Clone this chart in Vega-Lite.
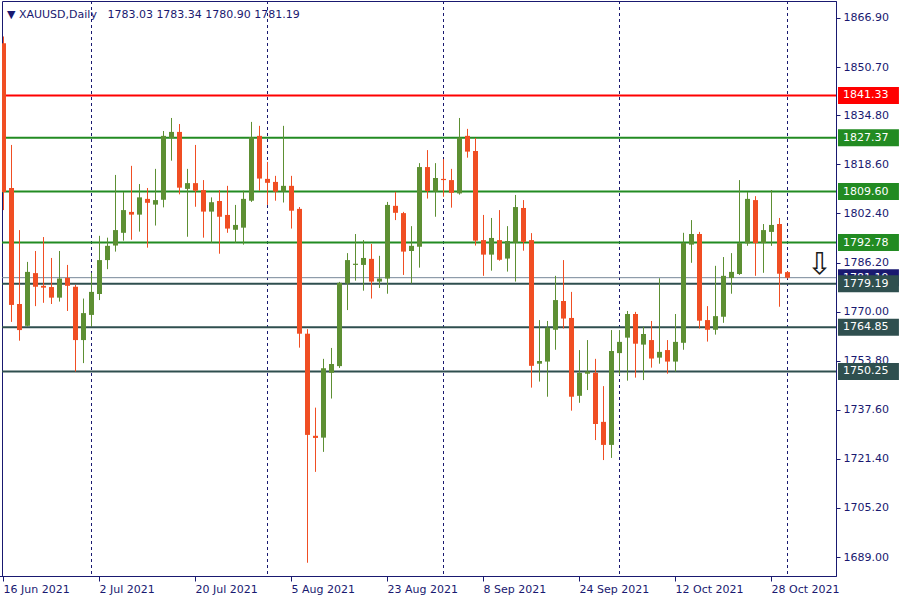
{
"$schema":"https://vega.github.io/schema/vega-lite/v6.json",
"width":834,"height":575,
"autosize":{"type":"none"},
"padding":{"left":2,"top":1,"right":64,"bottom":24},
"background":"white",
"config":{"font":"DejaVu Sans","view":{"stroke":"#191970","strokeWidth":1},"axis":{"grid":false}},
"title":{"text":"▼ XAUUSD,Daily\u00a0\u00a0\u00a01783.03 1783.34 1780.90 1781.19","anchor":"start","frame":"group","offset":-15,"dx":5,"dy":13,"fontSize":11,"fontWeight":"normal","color":"#191970","baseline":"alphabetic","font":"DejaVu Sans"},
"datasets":{
"bars":[
{"d":"16 Jun 2021","o":1858.6,"h":1860.8,"l":1803.5,"c":1809.5},
{"d":"17 Jun 2021","o":1810.8,"h":1825.0,"l":1766.6,"c":1772.2},
{"d":"18 Jun 2021","o":1772.5,"h":1796.9,"l":1760.4,"c":1763.9},
{"d":"21 Jun 2021","o":1765.3,"h":1786.4,"l":1765.0,"c":1783.1},
{"d":"22 Jun 2021","o":1782.7,"h":1790.0,"l":1771.8,"c":1778.2},
{"d":"23 Jun 2021","o":1778.5,"h":1794.6,"l":1772.9,"c":1777.9},
{"d":"24 Jun 2021","o":1778.1,"h":1787.7,"l":1772.5,"c":1774.6},
{"d":"25 Jun 2021","o":1774.6,"h":1790.0,"l":1773.3,"c":1780.9},
{"d":"28 Jun 2021","o":1781.1,"h":1785.4,"l":1770.2,"c":1778.5},
{"d":"29 Jun 2021","o":1778.2,"h":1778.8,"l":1750.2,"c":1760.6},
{"d":"30 Jun 2021","o":1760.6,"h":1774.3,"l":1753.0,"c":1769.5},
{"d":"1 Jul 2021","o":1768.9,"h":1782.8,"l":1765.0,"c":1776.5},
{"d":"2 Jul 2021","o":1775.8,"h":1795.0,"l":1773.8,"c":1787.0},
{"d":"5 Jul 2021","o":1787.0,"h":1794.4,"l":1784.0,"c":1791.7},
{"d":"6 Jul 2021","o":1791.8,"h":1815.1,"l":1789.8,"c":1796.9},
{"d":"7 Jul 2021","o":1796.0,"h":1809.5,"l":1793.4,"c":1803.5},
{"d":"8 Jul 2021","o":1802.9,"h":1818.1,"l":1793.7,"c":1802.0},
{"d":"9 Jul 2021","o":1802.0,"h":1812.1,"l":1796.4,"c":1807.7},
{"d":"12 Jul 2021","o":1807.2,"h":1810.8,"l":1791.1,"c":1805.9},
{"d":"13 Jul 2021","o":1805.3,"h":1817.1,"l":1798.4,"c":1806.8},
{"d":"14 Jul 2021","o":1806.9,"h":1829.6,"l":1804.4,"c":1828.0},
{"d":"15 Jul 2021","o":1827.3,"h":1833.9,"l":1819.8,"c":1829.3},
{"d":"16 Jul 2021","o":1829.3,"h":1831.9,"l":1808.7,"c":1810.9},
{"d":"19 Jul 2021","o":1810.5,"h":1817.1,"l":1794.7,"c":1812.4},
{"d":"20 Jul 2021","o":1812.4,"h":1825.0,"l":1804.6,"c":1809.9},
{"d":"21 Jul 2021","o":1810.1,"h":1813.4,"l":1794.4,"c":1803.0},
{"d":"22 Jul 2021","o":1803.0,"h":1807.7,"l":1792.7,"c":1806.1},
{"d":"23 Jul 2021","o":1806.5,"h":1810.1,"l":1789.1,"c":1801.3},
{"d":"26 Jul 2021","o":1801.9,"h":1811.5,"l":1796.0,"c":1797.4},
{"d":"27 Jul 2021","o":1797.0,"h":1805.2,"l":1792.7,"c":1798.6},
{"d":"28 Jul 2021","o":1797.7,"h":1809.9,"l":1792.1,"c":1807.2},
{"d":"29 Jul 2021","o":1806.6,"h":1832.6,"l":1806.2,"c":1827.5},
{"d":"30 Jul 2021","o":1828.0,"h":1831.3,"l":1809.9,"c":1813.9},
{"d":"2 Aug 2021","o":1813.8,"h":1819.4,"l":1805.2,"c":1812.5},
{"d":"3 Aug 2021","o":1812.8,"h":1814.8,"l":1806.6,"c":1809.6},
{"d":"4 Aug 2021","o":1809.6,"h":1831.3,"l":1806.0,"c":1811.5},
{"d":"5 Aug 2021","o":1811.5,"h":1814.8,"l":1797.4,"c":1803.3},
{"d":"6 Aug 2021","o":1803.9,"h":1804.5,"l":1758.1,"c":1762.7},
{"d":"9 Aug 2021","o":1762.7,"h":1764.2,"l":1687.1,"c":1729.3},
{"d":"10 Aug 2021","o":1729.0,"h":1738.3,"l":1717.1,"c":1728.3},
{"d":"11 Aug 2021","o":1728.4,"h":1754.4,"l":1723.7,"c":1751.3},
{"d":"12 Aug 2021","o":1749.8,"h":1758.0,"l":1741.3,"c":1752.7},
{"d":"13 Aug 2021","o":1752.0,"h":1779.8,"l":1751.4,"c":1779.5},
{"d":"16 Aug 2021","o":1779.3,"h":1789.3,"l":1770.5,"c":1787.0},
{"d":"17 Aug 2021","o":1785.4,"h":1795.6,"l":1780.2,"c":1785.8},
{"d":"18 Aug 2021","o":1785.4,"h":1793.6,"l":1776.9,"c":1787.7},
{"d":"19 Aug 2021","o":1787.4,"h":1792.3,"l":1774.3,"c":1779.9},
{"d":"20 Aug 2021","o":1779.9,"h":1788.4,"l":1777.8,"c":1780.9},
{"d":"23 Aug 2021","o":1780.9,"h":1806.2,"l":1775.9,"c":1805.2},
{"d":"24 Aug 2021","o":1804.9,"h":1809.5,"l":1800.2,"c":1802.6},
{"d":"25 Aug 2021","o":1802.5,"h":1802.9,"l":1782.1,"c":1789.8},
{"d":"26 Aug 2021","o":1790.0,"h":1798.2,"l":1779.3,"c":1791.7},
{"d":"27 Aug 2021","o":1791.4,"h":1819.0,"l":1784.5,"c":1817.7},
{"d":"30 Aug 2021","o":1817.7,"h":1823.3,"l":1807.3,"c":1809.8},
{"d":"31 Aug 2021","o":1809.6,"h":1819.0,"l":1801.3,"c":1814.1},
{"d":"1 Sep 2021","o":1813.8,"h":1820.3,"l":1807.9,"c":1813.4},
{"d":"2 Sep 2021","o":1813.4,"h":1817.1,"l":1804.3,"c":1809.2},
{"d":"3 Sep 2021","o":1809.0,"h":1833.9,"l":1808.6,"c":1827.4},
{"d":"6 Sep 2021","o":1828.0,"h":1830.3,"l":1820.8,"c":1822.8},
{"d":"7 Sep 2021","o":1823.0,"h":1827.3,"l":1791.8,"c":1793.4},
{"d":"8 Sep 2021","o":1793.6,"h":1801.9,"l":1781.8,"c":1788.8},
{"d":"9 Sep 2021","o":1788.8,"h":1800.9,"l":1783.5,"c":1794.3},
{"d":"10 Sep 2021","o":1793.6,"h":1803.5,"l":1786.8,"c":1787.1},
{"d":"13 Sep 2021","o":1787.5,"h":1798.2,"l":1783.2,"c":1793.3},
{"d":"14 Sep 2021","o":1792.7,"h":1808.5,"l":1779.9,"c":1804.5},
{"d":"15 Sep 2021","o":1804.2,"h":1806.8,"l":1790.1,"c":1793.0},
{"d":"16 Sep 2021","o":1793.6,"h":1795.9,"l":1744.9,"c":1752.1},
{"d":"17 Sep 2021","o":1752.8,"h":1767.2,"l":1746.9,"c":1753.7},
{"d":"20 Sep 2021","o":1753.5,"h":1766.9,"l":1741.9,"c":1764.7},
{"d":"21 Sep 2021","o":1764.0,"h":1781.8,"l":1757.4,"c":1773.8},
{"d":"22 Sep 2021","o":1773.5,"h":1787.0,"l":1764.4,"c":1767.7},
{"d":"23 Sep 2021","o":1767.9,"h":1776.5,"l":1737.3,"c":1741.9},
{"d":"24 Sep 2021","o":1742.2,"h":1757.3,"l":1739.9,"c":1749.8},
{"d":"27 Sep 2021","o":1749.5,"h":1760.6,"l":1744.1,"c":1750.2},
{"d":"28 Sep 2021","o":1749.8,"h":1754.4,"l":1727.6,"c":1732.9},
{"d":"29 Sep 2021","o":1733.6,"h":1745.4,"l":1721.0,"c":1726.0},
{"d":"30 Sep 2021","o":1726.0,"h":1763.9,"l":1721.7,"c":1757.0},
{"d":"1 Oct 2021","o":1756.3,"h":1763.9,"l":1749.1,"c":1760.0},
{"d":"4 Oct 2021","o":1761.4,"h":1770.2,"l":1747.2,"c":1769.2},
{"d":"5 Oct 2021","o":1769.2,"h":1769.9,"l":1748.2,"c":1759.4},
{"d":"6 Oct 2021","o":1759.1,"h":1765.0,"l":1747.4,"c":1762.6},
{"d":"7 Oct 2021","o":1760.6,"h":1766.9,"l":1751.5,"c":1754.5},
{"d":"8 Oct 2021","o":1754.8,"h":1781.0,"l":1752.8,"c":1756.7},
{"d":"11 Oct 2021","o":1757.3,"h":1760.6,"l":1749.5,"c":1753.5},
{"d":"12 Oct 2021","o":1753.5,"h":1769.2,"l":1750.2,"c":1760.0},
{"d":"13 Oct 2021","o":1759.7,"h":1796.0,"l":1757.4,"c":1792.7},
{"d":"14 Oct 2021","o":1792.1,"h":1800.2,"l":1786.1,"c":1795.6},
{"d":"15 Oct 2021","o":1795.6,"h":1796.3,"l":1764.4,"c":1767.0},
{"d":"18 Oct 2021","o":1767.2,"h":1771.8,"l":1760.1,"c":1764.0},
{"d":"19 Oct 2021","o":1764.0,"h":1785.1,"l":1762.4,"c":1768.5},
{"d":"20 Oct 2021","o":1768.3,"h":1788.0,"l":1766.3,"c":1781.8},
{"d":"21 Oct 2021","o":1781.1,"h":1789.3,"l":1775.9,"c":1783.1},
{"d":"22 Oct 2021","o":1782.4,"h":1813.4,"l":1782.1,"c":1792.6},
{"d":"25 Oct 2021","o":1792.5,"h":1809.5,"l":1791.7,"c":1807.2},
{"d":"26 Oct 2021","o":1806.8,"h":1808.1,"l":1781.8,"c":1792.6},
{"d":"27 Oct 2021","o":1792.6,"h":1798.9,"l":1782.8,"c":1796.9},
{"d":"28 Oct 2021","o":1796.3,"h":1810.1,"l":1791.7,"c":1798.6},
{"d":"29 Oct 2021","o":1798.9,"h":1800.9,"l":1771.6,"c":1782.5},
{"d":"1 Nov 2021","o":1783.03,"h":1783.34,"l":1780.90,"c":1781.19}
],
"seps":[{"d":"1 Jul 2021"},{"d":"2 Aug 2021"},{"d":"1 Sep 2021"},{"d":"1 Oct 2021"},{"d":"1 Nov 2021"}],
"levels":[
{"price":1781.19,"kind":"bid"},
{"price":1841.33,"kind":"target"},
{"price":1827.37,"kind":"resistance"},
{"price":1809.60,"kind":"resistance"},
{"price":1792.78,"kind":"resistance"},
{"price":1779.19,"kind":"support"},
{"price":1764.85,"kind":"support"},
{"price":1750.25,"kind":"support"}
],
"signals":[{"d":"5 Nov 2021","price":1785.4,"label":"⇩"}]
},
"layer":[
{"data":{"name":"seps"},
 "mark":{"type":"rule","strokeDash":[3,3],"color":"#191970","strokeWidth":1},
 "encoding":{"x":{"field":"d","type":"ordinal","title":null,"scale":{"domain":["16 Jun 2021","17 Jun 2021","18 Jun 2021","21 Jun 2021","22 Jun 2021","23 Jun 2021","24 Jun 2021","25 Jun 2021","28 Jun 2021","29 Jun 2021","30 Jun 2021","1 Jul 2021","2 Jul 2021","5 Jul 2021","6 Jul 2021","7 Jul 2021","8 Jul 2021","9 Jul 2021","12 Jul 2021","13 Jul 2021","14 Jul 2021","15 Jul 2021","16 Jul 2021","19 Jul 2021","20 Jul 2021","21 Jul 2021","22 Jul 2021","23 Jul 2021","26 Jul 2021","27 Jul 2021","28 Jul 2021","29 Jul 2021","30 Jul 2021","2 Aug 2021","3 Aug 2021","4 Aug 2021","5 Aug 2021","6 Aug 2021","9 Aug 2021","10 Aug 2021","11 Aug 2021","12 Aug 2021","13 Aug 2021","16 Aug 2021","17 Aug 2021","18 Aug 2021","19 Aug 2021","20 Aug 2021","23 Aug 2021","24 Aug 2021","25 Aug 2021","26 Aug 2021","27 Aug 2021","30 Aug 2021","31 Aug 2021","1 Sep 2021","2 Sep 2021","3 Sep 2021","6 Sep 2021","7 Sep 2021","8 Sep 2021","9 Sep 2021","10 Sep 2021","13 Sep 2021","14 Sep 2021","15 Sep 2021","16 Sep 2021","17 Sep 2021","20 Sep 2021","21 Sep 2021","22 Sep 2021","23 Sep 2021","24 Sep 2021","27 Sep 2021","28 Sep 2021","29 Sep 2021","30 Sep 2021","1 Oct 2021","4 Oct 2021","5 Oct 2021","6 Oct 2021","7 Oct 2021","8 Oct 2021","11 Oct 2021","12 Oct 2021","13 Oct 2021","14 Oct 2021","15 Oct 2021","18 Oct 2021","19 Oct 2021","20 Oct 2021","21 Oct 2021","22 Oct 2021","25 Oct 2021","26 Oct 2021","27 Oct 2021","28 Oct 2021","29 Oct 2021","1 Nov 2021","2 Nov 2021","3 Nov 2021","4 Nov 2021","5 Nov 2021","8 Nov 2021"],"range":[-2.5,829.5],"paddingInner":0,"paddingOuter":0},
  "axis":{"values":["16 Jun 2021","2 Jul 2021","20 Jul 2021","5 Aug 2021","23 Aug 2021","8 Sep 2021","24 Sep 2021","12 Oct 2021","28 Oct 2021"],"labelAlign":"left","labelAngle":0,"labelFontSize":11,"labelColor":"#191970","tickColor":"#191970","domainColor":"#191970","tickSize":5,"labelPadding":2,"title":null,"bandPosition":0.5,"labelOverlap":false,"labelBound":false,"labelFlush":false}}}
},
{"data":{"name":"levels"},
 "mark":{"type":"rule"},
 "encoding":{
  "y":{"field":"price","type":"quantitative","title":null,"scale":{"domain":[1682.73,1872.51],"nice":false,"zero":false},"axis":{"orient":"right","values":[1866.9,1850.7,1834.8,1818.6,1802.4,1786.2,1770.0,1753.8,1737.6,1721.4,1705.2,1689.0],"format":".2f","labelFontSize":11,"labelColor":"#191970","tickColor":"#191970","domainColor":"#191970","tickSize":4,"labelPadding":3,"title":null,"grid":false,"labelBaseline":"middle","labelBound":false,"labelFlush":false,"labelOverlap":false}},
  "color":{"field":"kind","type":"nominal","scale":{"domain":["target","resistance","support","bid"],"range":["#ff0000","#228b22","#2f4f4f","#778899"]},"legend":null},
  "strokeWidth":{"condition":{"test":"datum.kind === 'bid'","value":1},"value":2}
 }
},
{"encoding":{"x":{"field":"d","type":"ordinal","title":null,"scale":{"domain":["16 Jun 2021","17 Jun 2021","18 Jun 2021","21 Jun 2021","22 Jun 2021","23 Jun 2021","24 Jun 2021","25 Jun 2021","28 Jun 2021","29 Jun 2021","30 Jun 2021","1 Jul 2021","2 Jul 2021","5 Jul 2021","6 Jul 2021","7 Jul 2021","8 Jul 2021","9 Jul 2021","12 Jul 2021","13 Jul 2021","14 Jul 2021","15 Jul 2021","16 Jul 2021","19 Jul 2021","20 Jul 2021","21 Jul 2021","22 Jul 2021","23 Jul 2021","26 Jul 2021","27 Jul 2021","28 Jul 2021","29 Jul 2021","30 Jul 2021","2 Aug 2021","3 Aug 2021","4 Aug 2021","5 Aug 2021","6 Aug 2021","9 Aug 2021","10 Aug 2021","11 Aug 2021","12 Aug 2021","13 Aug 2021","16 Aug 2021","17 Aug 2021","18 Aug 2021","19 Aug 2021","20 Aug 2021","23 Aug 2021","24 Aug 2021","25 Aug 2021","26 Aug 2021","27 Aug 2021","30 Aug 2021","31 Aug 2021","1 Sep 2021","2 Sep 2021","3 Sep 2021","6 Sep 2021","7 Sep 2021","8 Sep 2021","9 Sep 2021","10 Sep 2021","13 Sep 2021","14 Sep 2021","15 Sep 2021","16 Sep 2021","17 Sep 2021","20 Sep 2021","21 Sep 2021","22 Sep 2021","23 Sep 2021","24 Sep 2021","27 Sep 2021","28 Sep 2021","29 Sep 2021","30 Sep 2021","1 Oct 2021","4 Oct 2021","5 Oct 2021","6 Oct 2021","7 Oct 2021","8 Oct 2021","11 Oct 2021","12 Oct 2021","13 Oct 2021","14 Oct 2021","15 Oct 2021","18 Oct 2021","19 Oct 2021","20 Oct 2021","21 Oct 2021","22 Oct 2021","25 Oct 2021","26 Oct 2021","27 Oct 2021","28 Oct 2021","29 Oct 2021","1 Nov 2021","2 Nov 2021","3 Nov 2021","4 Nov 2021","5 Nov 2021","8 Nov 2021"],"range":[-2.5,829.5],"paddingInner":0,"paddingOuter":0},
   "axis":{"values":["16 Jun 2021","2 Jul 2021","20 Jul 2021","5 Aug 2021","23 Aug 2021","8 Sep 2021","24 Sep 2021","12 Oct 2021","28 Oct 2021"],"labelAlign":"left","labelAngle":0,"labelFontSize":11,"labelColor":"#191970","tickColor":"#191970","domainColor":"#191970","tickSize":5,"labelPadding":2,"title":null,"bandPosition":0.5,"labelOverlap":false,"labelBound":false,"labelFlush":false}}},
 "layer":[
  {"data":{"name":"bars"},
   "mark":{"type":"rule","strokeWidth":1,"clip":true},
   "encoding":{
    "y":{"field":"l","type":"quantitative","title":null,"scale":{"domain":[1682.73,1872.51],"nice":false,"zero":false},"axis":{"orient":"right","values":[1866.9,1850.7,1834.8,1818.6,1802.4,1786.2,1770.0,1753.8,1737.6,1721.4,1705.2,1689.0],"format":".2f","labelFontSize":11,"labelColor":"#191970","tickColor":"#191970","domainColor":"#191970","tickSize":4,"labelPadding":3,"title":null,"grid":false,"labelBaseline":"middle","labelBound":false,"labelFlush":false,"labelOverlap":false}},
    "y2":{"field":"h"},
    "color":{"condition":{"test":"datum.c >= datum.o","value":"#5d8f33"},"value":"#f04e23"}
   }
  },
  {"data":{"name":"bars"},
   "mark":{"type":"bar","size":5,"clip":true},
   "encoding":{
    "y":{"field":"o","type":"quantitative","title":null,"scale":{"domain":[1682.73,1872.51],"nice":false,"zero":false},"axis":{"orient":"right","values":[1866.9,1850.7,1834.8,1818.6,1802.4,1786.2,1770.0,1753.8,1737.6,1721.4,1705.2,1689.0],"format":".2f","labelFontSize":11,"labelColor":"#191970","tickColor":"#191970","domainColor":"#191970","tickSize":4,"labelPadding":3,"title":null,"grid":false,"labelBaseline":"middle","labelBound":false,"labelFlush":false,"labelOverlap":false}},
    "y2":{"field":"c"},
    "color":{"condition":{"test":"datum.c >= datum.o","value":"#5d8f33"},"value":"#f04e23"}
   }
  },
  {"data":{"name":"signals"},
   "mark":{"type":"text","fontSize":30,"color":"#1a1a1a","baseline":"middle","align":"center","font":"DejaVu Sans"},
   "encoding":{
    "y":{"field":"price","type":"quantitative","title":null,"scale":{"domain":[1682.73,1872.51],"nice":false,"zero":false},"axis":{"orient":"right","values":[1866.9,1850.7,1834.8,1818.6,1802.4,1786.2,1770.0,1753.8,1737.6,1721.4,1705.2,1689.0],"format":".2f","labelFontSize":11,"labelColor":"#191970","tickColor":"#191970","domainColor":"#191970","tickSize":4,"labelPadding":3,"title":null,"grid":false,"labelBaseline":"middle","labelBound":false,"labelFlush":false,"labelOverlap":false}},
    "text":{"field":"label"}
   }
  }
 ]
},
{"data":{"name":"levels"},
 "transform":[{"filter":"datum.kind === 'bid'"}],
 "mark":{"type":"point","shape":"M0.065,-0.274H2.03V0.274H0.065Z","size":3844,"filled":true,"opacity":1,"strokeWidth":0,"x":"width"},
 "encoding":{
  "y":{"field":"price","type":"quantitative","title":null,"scale":{"domain":[1682.73,1872.51],"nice":false,"zero":false},"axis":{"orient":"right","values":[1866.9,1850.7,1834.8,1818.6,1802.4,1786.2,1770.0,1753.8,1737.6,1721.4,1705.2,1689.0],"format":".2f","labelFontSize":11,"labelColor":"#191970","tickColor":"#191970","domainColor":"#191970","tickSize":4,"labelPadding":3,"title":null,"grid":false,"labelBaseline":"middle","labelBound":false,"labelFlush":false,"labelOverlap":false}},
  "color":{"value":"#191970"}
 }
},
{"data":{"name":"levels"},
 "transform":[{"filter":"datum.kind === 'bid'"}],
 "mark":{"type":"text","x":"width","dx":7,"align":"left","baseline":"middle","color":"white","fontSize":11},
 "encoding":{
  "y":{"field":"price","type":"quantitative","title":null,"scale":{"domain":[1682.73,1872.51],"nice":false,"zero":false},"axis":{"orient":"right","values":[1866.9,1850.7,1834.8,1818.6,1802.4,1786.2,1770.0,1753.8,1737.6,1721.4,1705.2,1689.0],"format":".2f","labelFontSize":11,"labelColor":"#191970","tickColor":"#191970","domainColor":"#191970","tickSize":4,"labelPadding":3,"title":null,"grid":false,"labelBaseline":"middle","labelBound":false,"labelFlush":false,"labelOverlap":false}},
  "text":{"field":"price","type":"quantitative","format":".2f"}
 }
},
{"data":{"name":"levels"},
 "transform":[{"filter":"datum.kind !== 'bid'"}],
 "mark":{"type":"point","shape":"M0.065,-0.274H2.03V0.274H0.065Z","size":3844,"filled":true,"opacity":1,"strokeWidth":0,"x":"width"},
 "encoding":{
  "y":{"field":"price","type":"quantitative","title":null,"scale":{"domain":[1682.73,1872.51],"nice":false,"zero":false},"axis":{"orient":"right","values":[1866.9,1850.7,1834.8,1818.6,1802.4,1786.2,1770.0,1753.8,1737.6,1721.4,1705.2,1689.0],"format":".2f","labelFontSize":11,"labelColor":"#191970","tickColor":"#191970","domainColor":"#191970","tickSize":4,"labelPadding":3,"title":null,"grid":false,"labelBaseline":"middle","labelBound":false,"labelFlush":false,"labelOverlap":false}},
  "color":{"field":"kind","type":"nominal","scale":{"domain":["target","resistance","support","bid"],"range":["#ff0000","#228b22","#2f4f4f","#778899"]},"legend":null}
 }
},
{"data":{"name":"levels"},
 "transform":[{"filter":"datum.kind !== 'bid'"}],
 "mark":{"type":"text","x":"width","dx":7,"align":"left","baseline":"middle","color":"white","fontSize":11},
 "encoding":{
  "y":{"field":"price","type":"quantitative","title":null,"scale":{"domain":[1682.73,1872.51],"nice":false,"zero":false},"axis":{"orient":"right","values":[1866.9,1850.7,1834.8,1818.6,1802.4,1786.2,1770.0,1753.8,1737.6,1721.4,1705.2,1689.0],"format":".2f","labelFontSize":11,"labelColor":"#191970","tickColor":"#191970","domainColor":"#191970","tickSize":4,"labelPadding":3,"title":null,"grid":false,"labelBaseline":"middle","labelBound":false,"labelFlush":false,"labelOverlap":false}},
  "text":{"field":"price","type":"quantitative","format":".2f"}
 }
}
]
}
